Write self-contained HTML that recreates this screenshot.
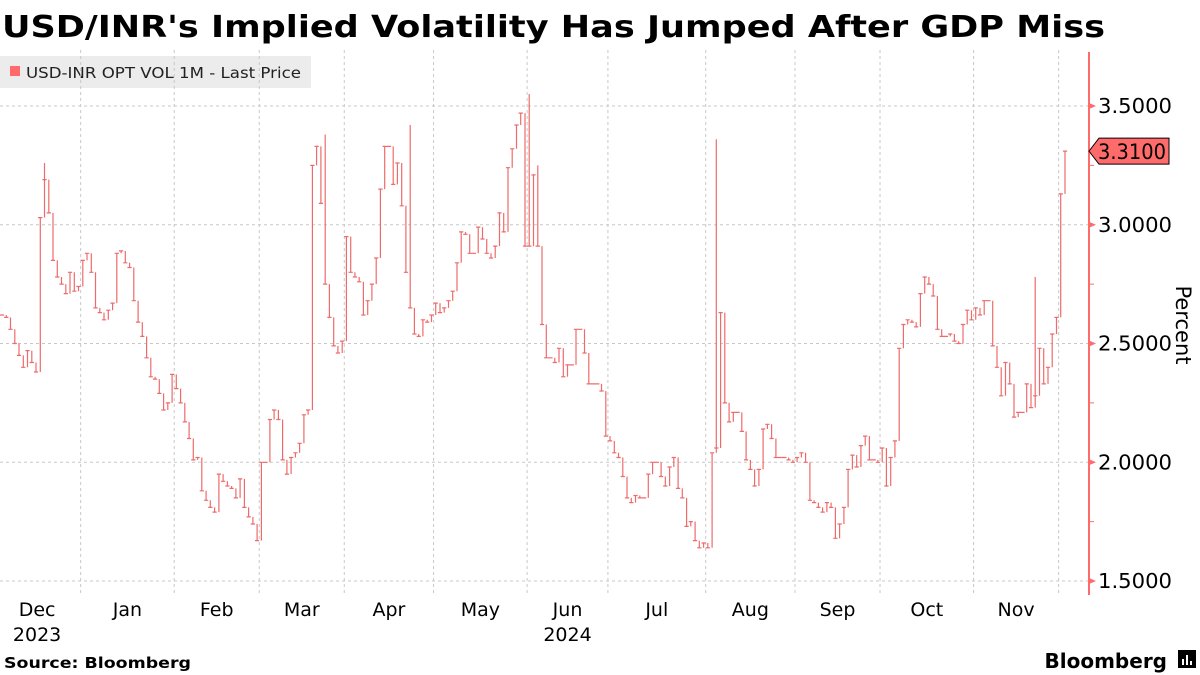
<!DOCTYPE html>
<html><head><meta charset="utf-8">
<style>
body{margin:0;background:#fff;width:1200px;height:675px;overflow:hidden;font-family:"DejaVu Sans","Liberation Sans",sans-serif;}
svg{display:block}
</style></head>
<body>
<svg id="chart" width="1200" height="675">
<text x="2" y="37" font-size="30" font-weight="bold" fill="#000" textLength="1103" lengthAdjust="spacingAndGlyphs">USD/INR's Implied Volatility Has Jumped After GDP Miss</text>
<g>
<rect x="0" y="56" width="311" height="32" fill="#ececec"/>
<rect x="10" y="66" width="10" height="10" fill="#ff6b6b"/>
<text x="26" y="78" font-size="15" fill="#222" textLength="275" lengthAdjust="spacingAndGlyphs">USD-INR OPT VOL 1M - Last Price</text>
</g>
<g id="grid"></g>
<g id="series"></g>
<g id="axis"></g>
<text x="0" y="0" transform="translate(1176,325) rotate(90)" text-anchor="middle" font-size="21" fill="#000">Percent</text>
<text x="4" y="668" font-size="15" font-weight="bold" fill="#000" textLength="187" lengthAdjust="spacingAndGlyphs">Source: Bloomberg</text>
<text x="1167" y="668" text-anchor="end" font-size="20" font-weight="bold" fill="#000">Bloomberg</text>
<g>
<rect x="1178" y="650" width="18" height="18" fill="#000"/>
<rect x="1182" y="659" width="2" height="6" fill="#fff"/><rect x="1186" y="655" width="2" height="10" fill="#fff"/><rect x="1190" y="661" width="2" height="4" fill="#fff"/>
</g>
</svg>
<script>
const monthLabels=["Dec","Jan","Feb","Mar","Apr","May","Jun","Jul","Aug","Sep","Oct","Nov"];
const yearLabels=[{m:0,t:"2023"},{m:6,t:"2024"}];
const yTicks=[1.5,2.0,2.5,3.0,3.5];
const dec23=[2.62,2.61,2.56,2.50,2.45,2.40,2.47,2.42,2.38,3.03,3.19,3.05,2.85,2.78,2.75,2.71,2.80,2.72,2.74];
const jan=[2.85,2.88,2.80,2.65,2.63,2.60,2.64,2.67,2.88,2.89,2.84,2.82,2.68,2.59,2.53,2.44,2.36,2.35,2.29,2.22,2.25,2.37];
const feb=[2.31,2.25,2.17,2.10,2.01,2.02,1.88,1.84,1.81,1.79,1.95,1.92,1.90,1.89,1.85,1.93,1.81,1.77,1.74,1.67];
const mar=[2.00,2.00,2.18,2.22,2.18,2.01,1.95,2.02,2.04,2.08,2.20,2.22,3.25,3.33,3.09,2.75,2.61,2.49,2.46,2.51];
const apr=[2.95,2.80,2.78,2.76,2.62,2.68,2.75,2.86,3.15,3.33,3.33,3.17,3.26,3.08,2.80,2.65,2.54,2.53,2.60,2.59,2.62];
const may=[2.67,2.63,2.65,2.68,2.72,2.84,2.97,2.96,2.88,2.88,2.99,2.94,2.88,2.86,2.91,3.05,2.97,3.24,3.32,3.42,3.47,2.91];
const jun=[2.91,3.21,2.91,2.58,2.44,2.44,2.42,2.48,2.36,2.41,2.41,2.56,2.56,2.46,2.33,2.33,2.33,2.30,2.11];
const jul=[2.09,2.04,2.02,1.94,1.85,1.83,1.86,1.85,1.85,1.95,2.00,2.00,1.94,1.90,1.98,2.02,1.89,1.85,1.73,1.75,1.67,1.64,1.66];
const aug=[1.64,2.04,2.06,2.63,2.25,2.17,2.21,2.21,2.13,2.01,1.97,1.90,1.97,2.14,2.16,2.10,2.02,2.02,2.02,2.01,2.00];
const sep=[2.02,2.04,2.00,1.84,1.83,1.81,1.79,1.83,1.81,1.68,1.74,1.81,1.97,2.03,1.98,2.07,2.11,2.01,2.01,2.00];
const oct=[2.06,1.90,2.02,2.09,2.48,2.58,2.60,2.59,2.57,2.71,2.78,2.75,2.70,2.56,2.53,2.53,2.54,2.51,2.50,2.58,2.64,2.60];
const nov=[2.65,2.62,2.68,2.68,2.49,2.40,2.28,2.42,2.33,2.19,2.21,2.21,2.33,2.23,2.28,2.48,2.33,2.40,2.54,2.61];
const dec24=[3.13,3.31];
const spikeIdx=[10,76,96,124,126,168,243,250];
const spikeHigh=[3.26,3.38,3.42,3.55,3.25,3.36,2.78,3.31];
const lastValue=3.31;

const NS="http://www.w3.org/2000/svg";
const months=[dec23,jan,feb,mar,apr,may,jun,jul,aug,sep,oct,nov,dec24];
const closes=[].concat(...months);
const starts=[];let acc=0;months.forEach(m=>{starts.push(acc);acc+=m.length;});
const X0=2,X1=1065,AX=1089;
const step=(X1-X0)/(closes.length-1);
const xs=i=>X0+i*step;
const ys=v=>581-(v-1.5)*237.5;
function mk(tag,attrs,parent){const e=document.createElementNS(NS,tag);for(const k in attrs)e.setAttribute(k,attrs[k]);parent.appendChild(e);return e;}
const grid=document.getElementById('grid'),series=document.getElementById('series'),axis=document.getElementById('axis');
yTicks.forEach(v=>{
 const l=mk('line',{x1:0,x2:AX,y1:ys(v),y2:ys(v),stroke:'#c8c8c8','stroke-dasharray':'3,3','stroke-width':1},grid);
 
 
 const t=mk('text',{x:1098,y:ys(v)+7,'font-size':20,fill:'#000',textLength:74,lengthAdjust:'spacingAndGlyphs'},axis);
 t.textContent=v.toFixed(4);
 
 
 const tk=mk('path',{d:`M${AX} ${ys(v)-3} L${AX+7} ${ys(v)} L${AX} ${ys(v)+3}Z`,fill:'#ff6b6b'},axis);
 
 
});
for(let v=1.75;v<3.7;v+=0.5){
 const m=mk('line',{x1:AX,x2:AX+5,y1:ys(v),y2:ys(v),stroke:'#ff6b6b'},axis);
 
 
}
const al=mk('line',{x1:AX,x2:AX,y1:52,y2:595,stroke:'#ff6b6b','stroke-width':2},axis);


starts.forEach((s,mi)=>{
 if(mi===0)return;
 const gx=xs(s)-step/2;
 const l=mk('line',{x1:gx,x2:gx,y1:50,y2:595,stroke:'#c8c8c8','stroke-dasharray':'3,3'},grid);
 
 
});
monthLabels.forEach((m,mi)=>{
 const a=mi===0?xs(0)-step*2:xs(starts[mi])-step/2;
 const b=xs(starts[mi+1])-step/2;
 const t=mk('text',{x:(a+b)/2,y:616,'text-anchor':'middle','font-size':19,fill:'#000'},axis);
 t.textContent=m;
 
 
});
yearLabels.forEach(y=>{
 const a=y.m===0?xs(0)-step*2:xs(starts[y.m])-step/2;
 const b=xs(starts[y.m+1])-step/2;
 const t=mk('text',{x:(a+b)/2,y:641,'text-anchor':'middle','font-size':19,fill:'#000'},axis);
 t.textContent=y.t;
 
 
});
let d='';
closes.forEach((c,i)=>{
 const x=xs(i),prev=i?closes[i-1]:c;
 d+=`M${x.toFixed(1)} ${ys(prev).toFixed(1)}L${x.toFixed(1)} ${ys(c).toFixed(1)}M${(x-step/2).toFixed(1)} ${ys(c).toFixed(1)}L${(x+step/2).toFixed(1)} ${ys(c).toFixed(1)}`;
});
spikeIdx.forEach((si,k)=>{const x=xs(si);d+=`M${x.toFixed(1)} ${ys(closes[si]).toFixed(1)}L${x.toFixed(1)} ${ys(spikeHigh[k]).toFixed(1)}`;});
const p=mk('path',{d:d,stroke:'#ee6b6b','stroke-width':1.2,fill:'none'},series);


const ly=ys(lastValue);
const tag=mk('path',{d:`M${AX} ${ly} L${AX+10} ${ly-13} L1169 ${ly-13} L1169 ${ly+13} L${AX+10} ${ly+13}Z`,fill:'#ff6b6b',stroke:'#000','stroke-width':1},axis);


const tt=mk('text',{x:1098,y:ly+8,'font-size':21,fill:'#000',textLength:68,lengthAdjust:'spacingAndGlyphs'},axis);
tt.textContent=lastValue.toFixed(4);


</script>
</body></html>
